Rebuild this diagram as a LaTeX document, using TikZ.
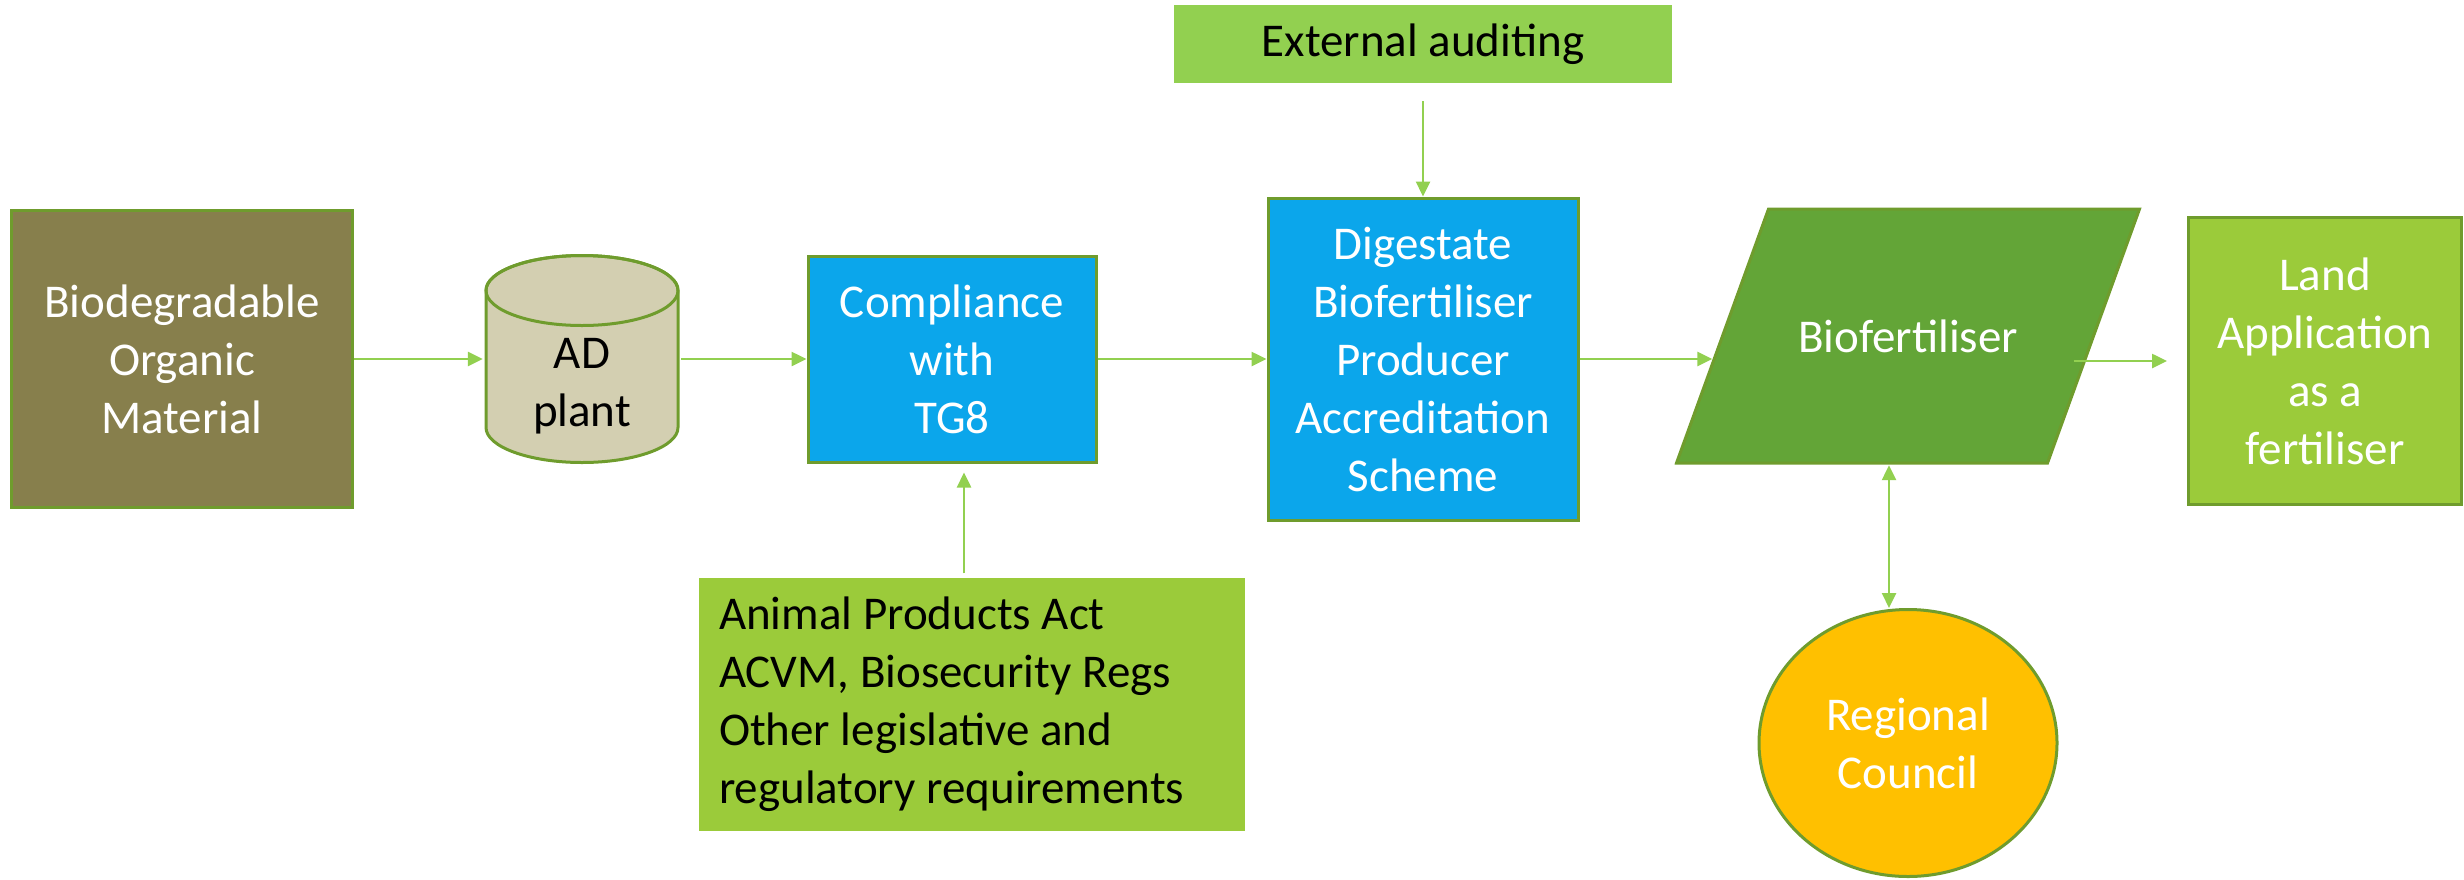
\documentclass[tikz,border=0pt]{standalone}
\usepackage{fontspec}
\setmainfont{Carlito}
\usetikzlibrary{positioning, shapes.geometric, arrows.meta}

\definecolor{olivebox}{HTML}{877F4C}
\definecolor{edgegreen}{HTML}{6F9C2D}
\definecolor{tankfill}{HTML}{D3CFB1}
\definecolor{skyblue}{HTML}{0BA6EB}
\definecolor{leafgreen}{HTML}{92D050}
\definecolor{limegreen}{HTML}{9BCB3A}
\definecolor{darkleaf}{HTML}{63A537}
\definecolor{amber}{HTML}{FFC000}

\tikzset{
  box/.style={rectangle, draw=edgegreen, line width=3pt, inner sep=0pt,
    text=white, align=center, font=\fontsize{47}{58}\selectfont},
  plain/.style={rectangle, inner sep=0pt, text=black, font=\fontsize{47}{58}\selectfont},
  flow/.style={draw=leafgreen, line width=2.5pt, -{Triangle[length=15pt,width=14pt]}},
  tank/.style={rectangle, inner sep=0pt, minimum width=198pt, minimum height=214pt,
    path picture={
      \filldraw[fill=tankfill, draw=edgegreen, line width=3pt]
        ([shift={(-96pt,68.5pt)}]path picture bounding box.center) -- ++(0,-137)
        arc[start angle=180, end angle=360, x radius=96pt, y radius=35pt] -- ++(0,137)
        arc[start angle=0, end angle=180, x radius=96pt, y radius=35pt] -- cycle;
      \draw[edgegreen, line width=3pt] ([yshift=68.5pt]path picture bounding box.center)
        ellipse [x radius=96pt, y radius=35pt];
    }},
  slab/.style={rectangle, inner sep=0pt, minimum width=467pt, minimum height=258pt,
    text=white, font=\fontsize{47}{58}\selectfont,
    path picture={
      \filldraw[fill=darkleaf, draw=edgegreen, line width=3pt]
        ([shift={(-231.5pt,-127pt)}]path picture bounding box.center)
        -- ++(371,0) -- ++(92,254) -- ++(-371,0) -- cycle;
    }},
}

\begin{document}
\begin{tikzpicture}[x=1pt, y=1pt, node distance=400pt, on grid]
  \useasboundingbox (0,0) rectangle (2464,-879);

  \node[box, fill=olivebox, minimum width=341pt, minimum height=297pt] (bio) at (182,-359)
    {Biodegradable\\Organic\\Material};
  \node[tank, right=400pt of bio,
    label={[plain, align=center, yshift=-27pt]center:AD\\plant}] (ad) {};
  \node[box, fill=skyblue, minimum width=288pt, minimum height=206pt, right=370pt of ad] (comp)
    {Compliance\\with\\TG8};
  \node[box, fill=skyblue, minimum width=310pt, minimum height=322pt, right=471pt of comp] (dig)
    {Digestate\\Biofertiliser\\Producer\\Accreditation\\Scheme};
  \node[slab, above right=23pt and 485pt of dig] (biof) {Biofertiliser};
  \node[box, fill=limegreen, minimum width=273pt, minimum height=287pt,
    below right=25pt and 417pt of biof] (land) {Land\\Application\\as a\\fertiliser};
  \node[plain, fill=leafgreen, minimum width=498pt, minimum height=78pt,
    above=315pt of dig] (ext) {External auditing};
  \node[plain, fill=limegreen, text width=506pt, inner xsep=20pt, minimum height=253pt,
    align=flush left, below right=345pt and 20pt of comp] (acts)
    {Animal Products Act\\ACVM, Biosecurity Regs\\Other legislative and\\regulatory requirements};
  \node[box, fill=amber, ellipse, minimum width=298pt, minimum height=267pt,
    below=407pt of biof] (council) {Regional\\Council};

  \draw[flow] (bio) -- (ad);
  \draw[flow] (ad) -- (comp);
  \draw[flow] (comp) -- (dig);
  \draw[flow] (dig.east) -- ([xshift=38pt]dig.east -| biof.west);
  \draw[flow, shorten >=20pt] ([xshift=-68pt]land.west -| biof.east) -- (land.west);
  \draw[flow, shorten <=18pt] (ext.south) -- (dig.north);
  \draw[flow, shorten <=4pt, shorten >=9pt] ([xshift=-8pt]acts.north) -- ([xshift=-8pt]acts.north |- comp.south);
  \draw[flow, {Triangle[length=15pt,width=14pt]}-{Triangle[length=15pt,width=14pt]}]
    ([xshift=-19pt]biof.south) -- ([xshift=-19pt]biof.south |- council.north);
\end{tikzpicture}
\end{document}
